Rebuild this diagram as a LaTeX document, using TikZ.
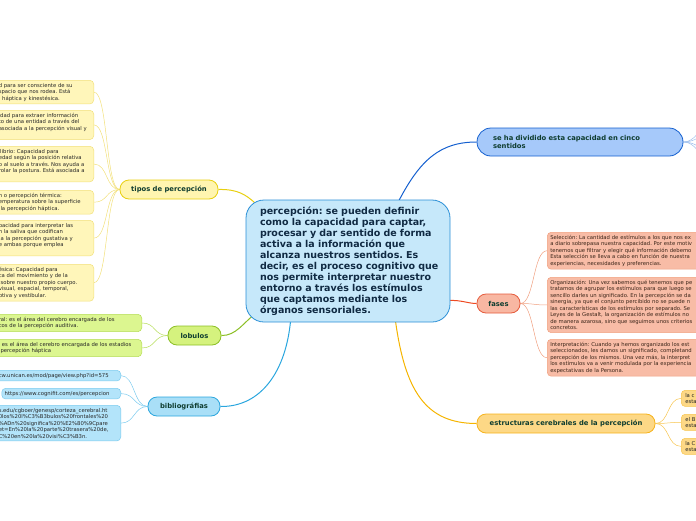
\documentclass[tikz,border=0pt]{standalone}
\usepackage{fontspec}
\setmainfont{DejaVu Sans}
\frenchspacing
\pgfdeclarelayer{bg}
\pgfsetlayers{bg,main}
\definecolor{cfill}{HTML}{C6E8FA}
\definecolor{cdraw}{HTML}{2A8FD6}
\definecolor{ctext}{HTML}{102A43}
\definecolor{ttext}{HTML}{0F3D30}
\definecolor{ltext}{HTML}{262626}
\definecolor{yfill}{HTML}{FFF5B0}
\definecolor{ydraw}{HTML}{E8CF10}
\definecolor{ylfill}{HTML}{FFF6BA}
\definecolor{yldraw}{HTML}{F2E07A}
\definecolor{gfill}{HTML}{D5F27E}
\definecolor{gdraw}{HTML}{8CBF26}
\definecolor{glfill}{HTML}{DCF690}
\definecolor{gldraw}{HTML}{B4DC55}
\definecolor{bfill}{HTML}{A9DFF7}
\definecolor{bdraw}{HTML}{2AA6DE}
\definecolor{blfill}{HTML}{B3E4FA}
\definecolor{bldraw}{HTML}{7CCBEE}
\definecolor{sfill}{HTML}{A6C9FA}
\definecolor{sdraw}{HTML}{1560CF}
\definecolor{sline}{HTML}{9CBDEB}
\definecolor{ffill}{HTML}{F8B7A2}
\definecolor{fdraw}{HTML}{E55B3C}
\definecolor{flfill}{HTML}{F8BCA6}
\definecolor{fldraw}{HTML}{F0A080}
\definecolor{fline}{HTML}{EE4A22}
\definecolor{ftext}{HTML}{3A2418}
\definecolor{efill}{HTML}{FDD886}
\definecolor{edraw}{HTML}{F6B31C}
\definecolor{eldraw}{HTML}{F7C54E}
\definecolor{eline}{HTML}{F5B400}
\tikzset{
  centernode/.style={draw=cdraw, fill=cfill, line width=0.8pt, rounded corners=18pt,
    minimum width=204pt, minimum height=122pt, text width=176pt, inner xsep=14pt,
    align=left, text=ctext, font=\fontsize{9.5}{11}\selectfont\bfseries},
  topic/.style={line width=0.8pt, rounded corners=9pt, minimum height=19pt, inner sep=0pt,
    text=ttext, font=\fontsize{6.8}{8}\selectfont\bfseries},
  leaf/.style={line width=0.5pt, rounded corners=4pt, align=left, inner xsep=3pt,
    inner ysep=2.8pt, text=ltext, font=\fontsize{5.3}{6.5}\selectfont},
  tleaf/.style={leaf, draw=yldraw, fill=ylfill, anchor=north east, text width=92pt},
  gleaf/.style={leaf, draw=gldraw, fill=glfill, anchor=north east, text width=140pt},
  bleaf/.style={leaf, draw=bldraw, fill=blfill, anchor=north east, text width=119pt},
  fleaf/.style={leaf, draw=fldraw, fill=flfill, anchor=north west, text width=200pt, text=ftext},
  eleaf/.style={leaf, draw=eldraw, fill=efill, anchor=north west, text width=40pt, inner xsep=4pt},
  twig/.style={line width=0.5pt},
  branch/.style={line width=1pt}
}
\begin{document}
\begin{tikzpicture}[x=1pt,y=-1pt]
\useasboundingbox (0,0) rectangle (696,520);
\clip (0,0) rectangle (696,520);
% centre
\node[centernode] (c) at (348,261) {\mbox{percepción: se pueden definir}\\\mbox{como la capacidad para captar,}\\\mbox{procesar y dar sentido de forma}\\\mbox{activa a la información que}\\\mbox{alcanza nuestros sentidos. Es}\\\mbox{decir, es el proceso cognitivo que}\\\mbox{nos permite interpretar nuestro}\\\mbox{entorno a través los estímulos}\\\mbox{que captamos mediante los}\\\mbox{órganos sensoriales.}};
% main topics
\node[topic, draw=ydraw, fill=yfill, minimum width=98pt] (tipos) at (169,189.5) {tipos de percepción};
\node[topic, draw=gdraw, fill=gfill, minimum width=53pt] (lob) at (194.5,335.5) {lobulos};
\node[topic, draw=bdraw, fill=bfill, minimum width=72pt] (bib) at (184,406.5) {bibliográfias};
\node[topic, draw=sdraw, fill=sfill, minimum width=206pt, minimum height=28pt, rounded corners=14pt,
  text width=174pt, inner xsep=16pt, align=left, font=\fontsize{6.8}{8.2}\selectfont\bfseries] (sent) at (580,142) {se ha dividido esta capacidad en cinco\\sentidos};
\node[topic, draw=fdraw, fill=ffill, minimum width=43pt] (fases) at (498.5,303.5) {fases};
\node[topic, draw=edraw, fill=efill, minimum width=178pt] (estr) at (566,423.5) {estructuras cerebrales de la percepción};
% tipos leaves
\node[tleaf] (t1) at (94,80) {d para ser consciente de su\\spacio que nos rodea. Está\\, háptica y kinestésica.};
\node[tleaf] (t2) at (94,110) {idad para extraer información\\to de una entidad a través del\\asociada a la percepción visual y\\\mbox{}};
\node[tleaf] (t3) at (94,146) {ilibrio: Capacidad para\\edad según la posición relativa\\o al suelo a través. Nos ayuda a\\rolar la postura. Está asociada a\\\mbox{}};
\node[tleaf] (t4) at (94,190) {n o percepción térmica:\\emperatura sobre la superficie\\\ la percepción háptica.};
\node[tleaf] (t5) at (94,220) {pacidad para interpretar las\\n la saliva que codifican\\\ a la percepción gustativa y\\e ambas porque emplea\\\mbox{}};
\node[tleaf] (t6) at (94,264) {ésica: Capacidad para\\ca del movimiento y de la\\\ sobre nuestro propio cuerpo.\\visual, espacial, temporal,\\ptiva y vestibular.};
% lobulos leaves
\node[gleaf] (l1) at (142,314) {ral: es el área del cerebro encargada de los\\cos de la percepción auditiva.};
\node[gleaf] (l2) at (142,339) {l es el área del cerebro encargada de los estadios\\\ percepción háptica};
% bibliografia leaves
\node[bleaf] (b1) at (121,370) {cw.unican.es/mod/page/view.php?id=575};
\node[bleaf, text width=113pt] (b2) at (121,388) {https://www.cognifit.com/es/percepcion};
\node[bleaf] (b3) at (121,405) {s.edu/cgboer/genesp/corteza\_cerebral.ht\\0los\%20l\%C3\%B3bulos\%20frontales\%20\\\%ADn\%20significa\%20\%E2\%80\%9Cpare\\et=En\%20la\%20parte\%20trasera\%20de,\\C\%20en\%20la\%20visi\%C3\%B3n.};
% fases leaves
\node[fleaf] (f1) at (547,232) {Selección: La cantidad de estímulos a los que nos ex\\a diario sobrepasa nuestra capacidad. Por este motiv\\tenemos que filtrar y elegir qué información debemo\\Esta selección se lleva a cabo en función de nuestra\\experiencias, necesidades y preferencias.};
\node[fleaf] (f2) at (547,277) {Organización: Una vez sabemos qué tenemos que pe\\tratamos de agrupar los estímulos para que luego se\\sencillo darles un significado. En la percepción se da\\sinergia, ya que el conjunto percibido no se puede n\\las características de los estímulos por separado. Se\\Leyes de la Gestalt, la organización de estímulos no\\de manera azarosa, sino que seguimos unos criterios\\concretos.};
\node[fleaf] (f3) at (547,339) {Interpretación: Cuando ya hemos organizado los est\\seleccionados, les damos un significado, completand\\percepción de los mismos. Una vez más, la interpret\\los estímulos va a venir modulada por la experiencia\\expectativas de la Persona.};
% estructuras leaves
\node[eleaf] (e1) at (681,390) {la c\\esta};
\node[eleaf] (e2) at (681,414) {el B\\esta};
\node[eleaf] (e3) at (681,438) {la C\\esta};
% off-canvas ends of the sentidos twigs
\coordinate (s1) at (740,92);
\coordinate (s2) at (740,118);
\coordinate (s3) at (740,166);
\coordinate (s4) at (740,192);
\begin{pgfonlayer}{bg}
\clip (0,0) rectangle (696,520);
% main branches
\draw[branch, draw=ydraw] (tipos.east) .. controls (238,189) and (246,195) .. ([shift={(9,3)}]c.north west);
\draw[branch, draw=gdraw] (lob.east) .. controls (236,336) and (244,322) .. ([shift={(9,-8)}]c.south west);
\draw[branch, draw=bdraw] (bib.east) .. controls (262,407) and (286,370) .. ([shift={(45,-2)}]c.south west);
\draw[branch, draw=sdraw] ([shift={(-52,2)}]c.north east) .. controls (420,160) and (440,142) .. (sent.west);
\draw[branch, draw=fline] ([shift={(-2,-22)}]c.south east) .. controls (462,300) and (468,303.5) .. (fases.west);
\draw[branch, draw=eline] ([shift={(-55,-2)}]c.south east) .. controls (405,390) and (425,423.5) .. (estr.west);
% twigs
\foreach \t in {t1,t2,t3,t4,t5,t6}
  \draw[twig, draw=yldraw] (tipos.west) .. controls +(-14,0) and +(14,0) .. (\t.east);
\foreach \t in {l1,l2}
  \draw[twig, draw=gldraw] (lob.west) .. controls +(-14,0) and +(14,0) .. (\t.east);
\foreach \t in {b1,b2,b3}
  \draw[twig, draw=bldraw] (bib.west) .. controls +(-14,0) and +(14,0) .. (\t.east);
\foreach \t in {f1,f2,f3}
  \draw[twig, draw=fldraw] (fases.east) .. controls +(14,0) and +(-14,0) .. (\t.west);
\foreach \t in {e1,e2,e3}
  \draw[twig, draw=eldraw] (estr.east) .. controls +(14,0) and +(-14,0) .. (\t.west);
\foreach \t in {s1,s2,s3,s4}
  \draw[twig, draw=sline] (sent.east) .. controls +(22,0) and +(-30,0) .. (\t);
\end{pgfonlayer}
\end{tikzpicture}
\end{document}
